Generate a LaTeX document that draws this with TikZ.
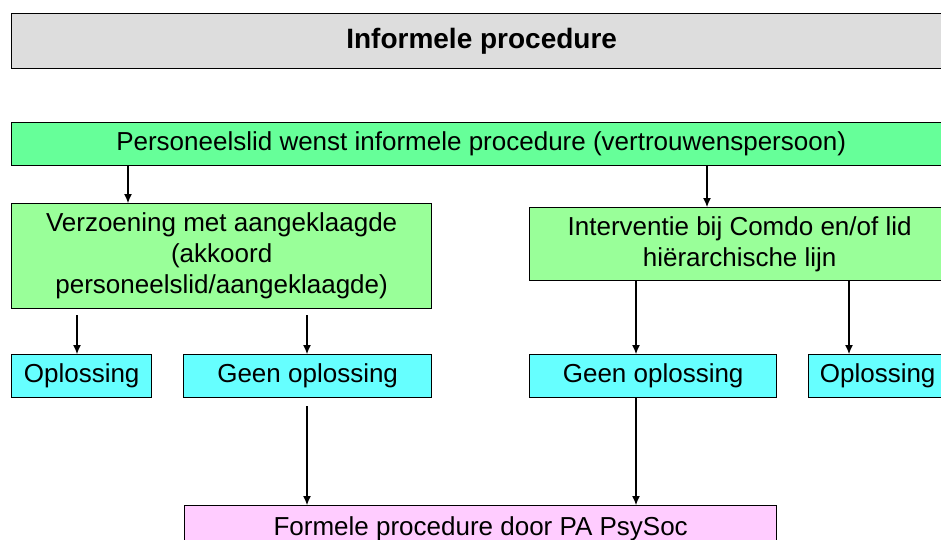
\documentclass[tikz,border=0pt]{standalone}
\usepackage{fontspec}
\setmainfont{Liberation Sans}
\usepackage{tikz}
\usetikzlibrary{arrows.meta,positioning}
\definecolor{titlegray}{HTML}{DDDDDD}
\definecolor{wishgreen}{HTML}{66FF99}
\definecolor{pathgreen}{HTML}{99FF99}
\definecolor{resultcyan}{HTML}{66FFFF}
\definecolor{formalpink}{HTML}{FFCCFF}

\begin{document}
\begin{tikzpicture}[x=1pt,y=-1pt,every node/.style={font=\fontsize{26}{31}\selectfont,align=center,inner sep=0pt},box/.style={draw=black,line width=1.3pt,anchor=north west,minimum height=43pt},arrow/.style={-{Latex[length=9pt,width=8pt]},line width=1.1pt}]
\useasboundingbox[fill=white] (0,0) rectangle (941,540);
\clip (0,0) rectangle (941,540);
\node[box,fill=titlegray,minimum width=940pt,minimum height=55pt,font=\bfseries\fontsize{28}{33}\selectfont] (title) at (11,13) {Informele procedure};
\node[box,fill=wishgreen,minimum width=939pt] (wish) at (11,122) {Personeelslid wenst informele procedure (vertrouwenspersoon)};
\node[box,fill=pathgreen,minimum width=420pt,minimum height=105pt] (verz) at (11,203) {Verzoening met aangeklaagde\\(akkoord\\personeelslid/aangeklaagde)};
\node[box,fill=pathgreen,minimum width=420pt,minimum height=73pt] (interv) at (529,207) {Interventie bij Comdo en/of lid\\hiërarchische lijn};
\node[box,fill=resultcyan,minimum width=140pt] (solveA) at (11,354) {Oplossing};
\node[box,fill=resultcyan,minimum width=248pt] (failA) at (183,354) {Geen oplossing};
\node[box,fill=resultcyan,minimum width=247pt] (failB) at (529,354) {Geen oplossing};
\node[box,fill=resultcyan,minimum width=138pt] (solveB) at (808,354) {Oplossing};
\node[box,fill=formalpink,minimum width=592pt,minimum height=46pt] (formal) at (184,505) {Formele procedure door PA PsySoc};
\draw[arrow] (wish.south -| 128,0) -- (verz.north -| 128,0); \draw[arrow] (wish.south -| 707,0) -- (interv.north -| 707,0);
\draw[arrow,shorten <=6pt] (verz.south -| 77,0) -- (solveA.north -| 77,0); \draw[arrow,shorten <=6pt] (verz.south -| 307,0) -- (failA.north -| 307,0);
\draw[arrow] (interv.south -| 636,0) -- (failB.north -| 636,0); \draw[arrow] (interv.south -| 849,0) -- (solveB.north -| 849,0);
\draw[arrow,shorten <=8pt] (failA.south -| 307,0) -- (formal.north -| 307,0); \draw[arrow] (failB.south -| 636,0) -- (formal.north -| 636,0);
\end{tikzpicture}
\end{document}
